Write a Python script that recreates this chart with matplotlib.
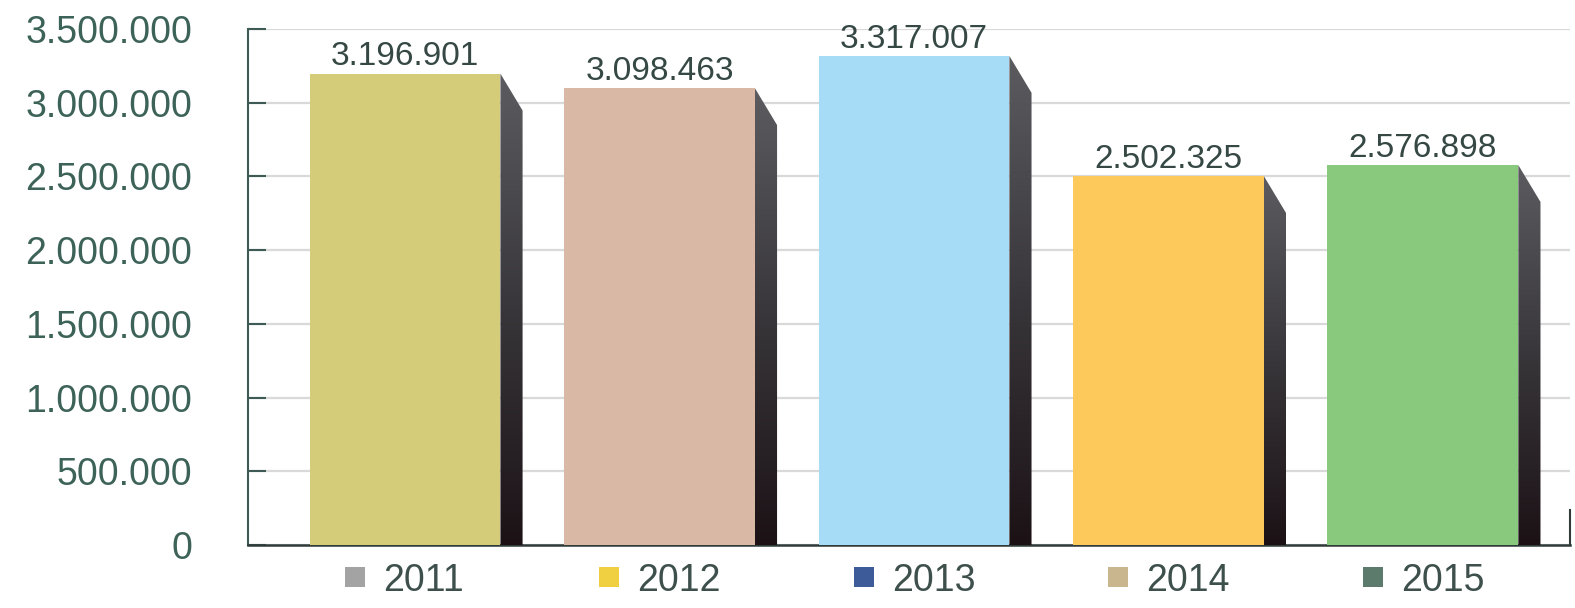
import numpy as np
import matplotlib
matplotlib.use("Agg")
import matplotlib.pyplot as plt
from matplotlib.patches import Polygon
from matplotlib.ticker import MultipleLocator, FuncFormatter
from matplotlib.transforms import ScaledTranslation, blended_transform_factory

# Veriler
years = ["2011", "2012", "2013", "2014", "2015"]
values = [3196901, 3098463, 3317007, 2502325, 2576898]
bar_colors = ["#d4cc78", "#d9b9a6", "#a6dcf6", "#fdc95b", "#89c97d"]
key_colors = ["#a3a3a3", "#f0d040", "#3d5b99", "#c9b68e", "#5c7b6c"]

plt.rcParams["font.family"] = ["Liberation Sans", "DejaVu Sans"]

def dotted(v, pos=None):
    return f"{int(v):,}".replace(",", ".")

fig = plt.figure(figsize=(15.75, 6.08), dpi=100)
ax = fig.add_axes([248 / 1575, 1 - 545 / 608, (1570 - 248) / 1575, (545 - 29) / 608])

x = np.arange(len(values))
w = 0.75
depth_x = 0.087
depth_y = 250000

ax.set_xlim(-0.617, 4.578)
ax.set_ylim(0, 3500000)

# Ön yüzler
ax.bar(x, values, width=w, color=bar_colors, zorder=3, linewidth=0)

# Yan yüzler (koyu gradyan)
grad = np.linspace(0, 1, 256).reshape(-1, 1)
cmap = matplotlib.colors.LinearSegmentedColormap.from_list("side", ["#1c1216", "#38363a", "#5c5c60"])
for xi, v in zip(x, values):
    xr = xi + w / 2
    poly = Polygon([(xr, v), (xr + depth_x, v - depth_y), (xr + depth_x, 0), (xr, 0)],
                   closed=True, facecolor="none", edgecolor="none", zorder=3)
    ax.add_patch(poly)
    im = ax.imshow(grad, extent=[xr, xr + depth_x, 0, v], origin="lower", cmap=cmap,
                   aspect="auto", zorder=3)
    im.set_clip_path(poly)

ax.set_xlim(-0.617, 4.578)
ax.set_ylim(0, 3500000)

# Değer etiketleri
for xi, v in zip(x, values):
    ax.annotate(dotted(v), (xi, v), xytext=(0, 6), textcoords="offset points",
                ha="center", va="baseline", fontsize=24, color="#354844", zorder=4)

# Eksenler
ax.yaxis.set_major_locator(MultipleLocator(500000))
ax.yaxis.set_major_formatter(FuncFormatter(dotted))
ax.tick_params(axis="y", direction="in", length=13, width=1.5, color="#3d5a55",
               pad=40, labelsize=27, labelcolor="#3d6358")
ax.set_xticks([])
ax.grid(axis="y", color="#d9d9d9", linewidth=1.6, zorder=0)
ax.set_axisbelow(True)
for s in ["top"]:
    ax.spines[s].set_visible(False)
ax.spines["left"].set_color("#3d5a55")
ax.spines["left"].set_linewidth(1.5)
ax.spines["bottom"].set_color("#2f3b38")
ax.spines["bottom"].set_linewidth(1.8)
ax.spines["right"].set_color("#2f3b38")
ax.spines["right"].set_linewidth(1.5)
ax.spines["right"].set_bounds(0, 240000)

# Yıl anahtarları
trans = blended_transform_factory(ax.transData, ax.transAxes)
for xi, yr, kc in zip(x, years, key_colors):
    sq_t = trans + ScaledTranslation(-50 / 100, -32 / 100, fig.dpi_scale_trans)
    ax.scatter([xi], [0], s=220, marker="s", color=kc, transform=sq_t, clip_on=False,
               linewidths=0)
    tx_t = trans + ScaledTranslation(-22 / 100, -32 / 100, fig.dpi_scale_trans)
    ax.text(xi, 0, yr, transform=tx_t, ha="left", va="center_baseline", fontsize=27,
            color="#3e504c")

fig.savefig("out.png", dpi=100)
